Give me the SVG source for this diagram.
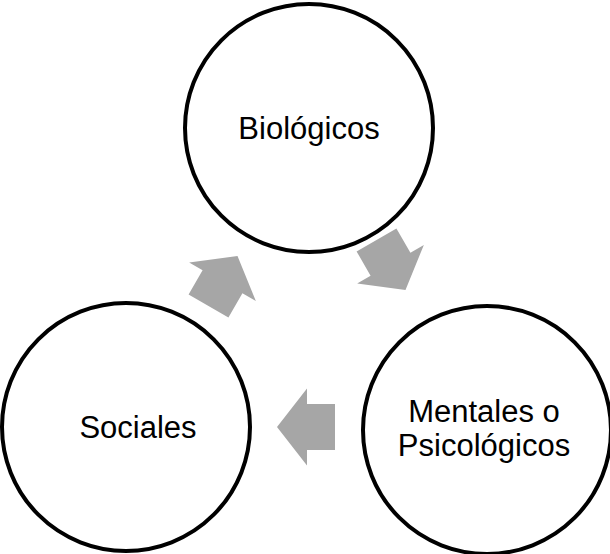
<svg xmlns="http://www.w3.org/2000/svg" width="610" height="554" viewBox="0 0 610 554">
<style>
.node{fill:#fff;stroke:#000;stroke-width:4}
.lbl{font-family:"Liberation Sans",Arial,sans-serif;font-size:31px;fill:#000;text-anchor:middle}
.arr{fill:#a6a6a6;stroke:none}
</style>
<defs>
<polygon id="blk" points="-29,-23 -1,-23 -1,-38.5 29,0 -1,38.5 -1,23 -29,23"/>
</defs>
<rect width="610" height="554" fill="#fff"/>
<g id="connectors">
<use href="#blk" class="arr" transform="translate(391,265) rotate(60)"/>
<use href="#blk" class="arr" transform="translate(306,427) rotate(180)"/>
<use href="#blk" class="arr" transform="translate(223,281) rotate(-60)"/>
</g>
<g id="biologicos">
<circle class="node" cx="309" cy="128" r="124"/>
<text class="lbl" x="309" y="139">Biológicos</text>
</g>
<g id="mentales">
<circle class="node" cx="487" cy="430" r="124"/>
<text class="lbl" x="484" y="422">Mentales o</text>
<text class="lbl" x="484" y="456">Psicológicos</text>
</g>
<g id="sociales">
<circle class="node" cx="126" cy="427" r="124"/>
<text class="lbl" x="138" y="438">Sociales</text>
</g>
</svg>
